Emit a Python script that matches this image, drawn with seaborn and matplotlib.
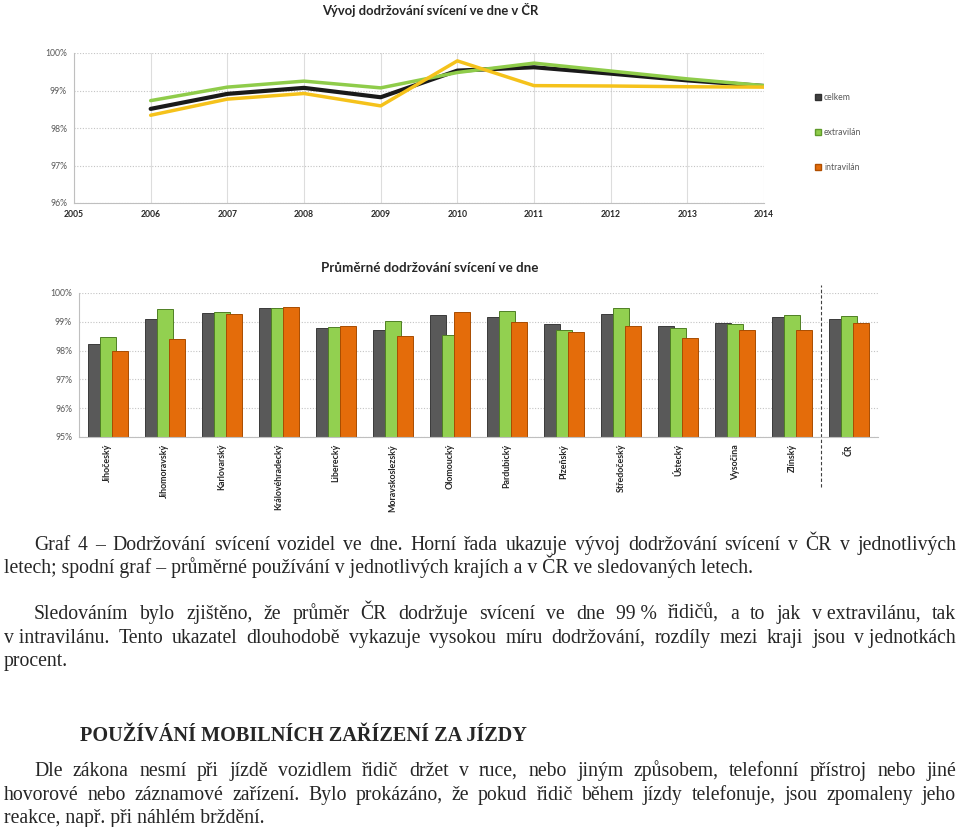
import matplotlib
matplotlib.use('Agg')
import matplotlib.pyplot as plt
from matplotlib.patches import Patch
import seaborn as sns
import pandas as pd

# top chart: yearly trend
years = [2006, 2007, 2008, 2009, 2010, 2011, 2012, 2013, 2014]
celkem = [98.51, 98.91, 99.07, 98.82, 99.53, 99.62, 99.45, 99.27, 99.12]
extravilan = [98.73, 99.09, 99.25, 99.07, 99.48, 99.73, 99.52, 99.31, 99.13]
intravilan = [98.34, 98.77, 98.92, 98.59, 99.79, 99.13, 99.12, 99.10, 99.09]

# bottom chart: regions
kraje = ['Jihočeský', 'Jihomoravský', 'Karlovarský', 'Královéhradecký', 'Liberecký',
         'Moravskoslezský', 'Olomoucký', 'Pardubický', 'Plzeňský', 'Středočeský',
         'Ústecký', 'Vysočina', 'Zlínský', 'ČR']
kraj_celkem = [98.22, 99.10, 99.30, 99.49, 98.78, 98.71, 99.22, 99.16, 98.92, 99.28, 98.84, 98.97, 99.15, 99.08]
kraj_extra = [98.47, 99.45, 99.34, 99.47, 98.81, 99.02, 98.55, 99.36, 98.70, 99.48, 98.80, 98.92, 99.23, 99.21]
kraj_intra = [97.99, 98.40, 99.27, 99.53, 98.87, 98.51, 99.33, 98.98, 98.64, 98.84, 98.43, 98.72, 98.72, 98.97]

serie = ['celkem', 'extravilán', 'intravilán']
top_ticks = [96, 97, 98, 99, 100]
bottom_ticks = [95, 96, 97, 98, 99, 100]

W, H = 960, 827
sns.set_style('white')
plt.rcParams['font.family'] = ['Lato', 'DejaVu Sans']

fig = plt.figure(figsize=(W / 100, H / 100), dpi=100)


def box(left, top, right, bottom):
    return [left / W, 1 - bottom / H, (right - left) / W, (bottom - top) / H]


grid_kw = dict(color='#c4c4c4', linestyle=(0, (1, 1.5)), linewidth=0.8)
lab_color = '#595959'

# ---- top chart
ax1 = fig.add_axes(box(74, 53, 764, 203))
sns.lineplot(x=years, y=celkem, color='#1a1a1a', linewidth=3.0, ax=ax1)
sns.lineplot(x=years, y=extravilan, color='#8fcc4a', linewidth=2.5, ax=ax1)
sns.lineplot(x=years, y=intravilan, color='#f5c21b', linewidth=2.5, ax=ax1)
ax1.set_xlim(2005, 2014)
ax1.set_ylim(96, 100)
ax1.set_xticks(range(2005, 2015))
ax1.set_xticklabels([str(y) for y in range(2005, 2015)], fontsize=6.2, fontweight='bold')
ax1.set_yticks(top_ticks)
ax1.set_yticklabels([f'{t}%' for t in top_ticks], fontsize=6.2, color=lab_color)
ax1.yaxis.grid(True, **grid_kw)
ax1.xaxis.grid(True, color='#dddddd', linewidth=0.8)
ax1.set_axisbelow(True)
for s in ['top', 'right']:
    ax1.spines[s].set_visible(False)
for s in ['left', 'bottom']:
    ax1.spines[s].set_color('#bfbfbf')
    ax1.spines[s].set_linewidth(0.8)
ax1.tick_params(axis='both', length=3, color='#bfbfbf', pad=2)
ax1.set_xlabel('')
ax1.set_ylabel('')
fig.text(430 / W, 1 - 10 / H, 'Vývoj dodržování svícení ve dne v ČR', ha='center', va='center',
         fontsize=9.4, fontweight='bold')
handles = [Patch(facecolor='#404040', edgecolor='#303030'),
           Patch(facecolor='#8fcc4a', edgecolor='#5f9a2a'),
           Patch(facecolor='#e46c0a', edgecolor='#b04f00')]
fig.legend(handles, serie, loc='upper left', bbox_to_anchor=(812 / W, 1 - 90 / H), frameon=False,
           fontsize=6.2, labelcolor=lab_color, handlelength=0.7, handleheight=0.7, handletextpad=0.3,
           labelspacing=3.0, borderaxespad=0)

# ---- bottom chart
df = pd.DataFrame({
    'kraj': kraje * 3,
    'typ': [serie[0]] * len(kraje) + [serie[1]] * len(kraje) + [serie[2]] * len(kraje),
    'hodnota': kraj_celkem + kraj_extra + kraj_intra,
})
ax2 = fig.add_axes(box(79, 293, 878, 437))
sns.barplot(data=df, x='kraj', y='hodnota', hue='typ', palette=['#595959', '#92d050', '#e46c0a'],
            saturation=1, width=0.63, legend=False, ax=ax2)
edges = ['#3a3a3a', '#4f7f24', '#a84c00']
# widen the bars a little so they overlap like in the original
for cont, ec in zip(ax2.containers, edges):
    for p in cont:
        c = p.get_x() + p.get_width() / 2
        p.set_width(0.28)
        p.set_x(c - 0.14)
        p.set_edgecolor(ec)
        p.set_linewidth(0.7)
ax2.set_ylim(95, 100)
ax2.set_xlim(-0.5, len(kraje) - 0.5)
ax2.set_yticks(bottom_ticks)
ax2.set_yticklabels([f'{t}%' for t in bottom_ticks], fontsize=6.2, color=lab_color)
ax2.set_xticks(range(len(kraje)))
ax2.set_xticklabels(kraje, rotation=90, fontsize=6.4, fontweight='bold')
ax2.set_xticks([i - 0.5 for i in range(len(kraje) + 1)], minor=True)
ax2.tick_params(axis='x', which='major', length=0, pad=5)
ax2.tick_params(axis='x', which='minor', length=4, color='#bfbfbf')
ax2.tick_params(axis='y', length=3, color='#bfbfbf', pad=2)
ax2.yaxis.grid(True, **grid_kw)
ax2.set_axisbelow(True)
for s in ['top', 'right']:
    ax2.spines[s].set_visible(False)
for s in ['left', 'bottom']:
    ax2.spines[s].set_color('#bfbfbf')
    ax2.spines[s].set_linewidth(0.8)
ax2.axvline(len(kraje) - 1.5, ymin=-0.35, ymax=1.056, clip_on=False, color='#404040',
            linestyle=(0, (3, 2)), linewidth=0.8)
ax2.set_xlabel('')
ax2.set_ylabel('')
fig.text(430 / W, 1 - 268 / H, 'Průměrné dodržování svícení ve dne', ha='center', va='center',
         fontsize=9.6, fontweight='bold')

# ---- document text below the charts
serif = ['Liberation Serif', 'DejaVu Serif']
body_size = 14.2
renderer = fig.canvas.get_renderer()
NB = '\u00a0'


def put_line(y, text, x0, x1=None, size=body_size, weight='normal'):
    if x1 is None:
        fig.text(x0 / W, 1 - y / H, text, ha='left', va='baseline', fontsize=size,
                 fontweight=weight, family=serif)
        return
    # justified line: place word by word, spread the leftover space
    words = text.split(' ')
    items = []
    for w in words:
        t = fig.text(0, 1 - y / H, w, ha='left', va='baseline', fontsize=size,
                     fontweight=weight, family=serif)
        items.append((t, t.get_window_extent(renderer).width))
    total = sum(w for _, w in items)
    gap = (x1 - x0 - total) / (len(items) - 1)
    x = x0
    for t, w in items:
        t.set_x(x / W)
        x += w + gap


put_line(550, 'Graf 4 – Dodržování svícení vozidel ve dne. Horní řada ukazuje vývoj dodržování '
              'svícení v ČR v jednotlivých', 34, 956)
put_line(573, 'letech; spodní graf – průměrné používání v jednotlivých krajích a v ČR ve sledovaných letech.', 4)
put_line(619, f'Sledováním bylo zjištěno, že průměr ČR dodržuje svícení ve dne 99{NB}% řidičů, '
              f'a to jak v{NB}extravilánu, tak', 34, 956)
put_line(643, f'v{NB}intravilánu. Tento ukazatel dlouhodobě vykazuje vysokou míru dodržování, '
              f'rozdíly mezi kraji jsou v{NB}jednotkách', 4, 956)
put_line(666, 'procent.', 4)
put_line(741, 'POUŽÍVÁNÍ MOBILNÍCH ZAŘÍZENÍ ZA JÍZDY', 80, size=14.6, weight='bold')
put_line(776, 'Dle zákona nesmí při jízdě vozidlem řidič držet v ruce, nebo jiným způsobem, '
              'telefonní přístroj nebo jiné', 34, 956)
put_line(800, 'hovorové nebo záznamové zařízení. Bylo prokázáno, že pokud řidič během jízdy '
              'telefonuje, jsou zpomaleny jeho', 4, 956)
put_line(823, 'reakce, např. při náhlém brždění.', 4)

fig.savefig('out.png', dpi=100)
